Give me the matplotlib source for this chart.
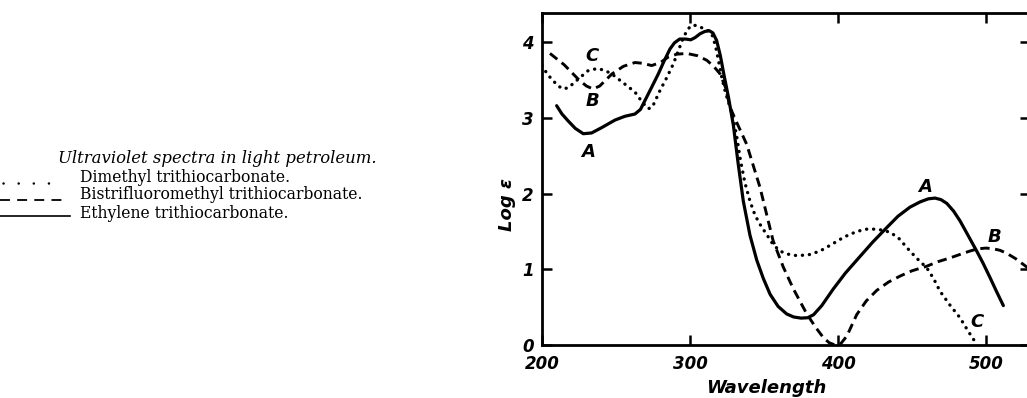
import matplotlib
matplotlib.use("Agg")
import matplotlib.pyplot as plt
from matplotlib.lines import Line2D

# ---- data ----
# A: Ethylene trithiocarbonate (solid)
wl_A = [209.9, 213.5, 217.6, 222.5, 227.9, 233.5, 240.3, 249.3, 256.0, 262.8, 266.5, 269.6,
        274.0, 278.6, 282.5, 286.5, 289.5, 293.0, 297.0, 300.5, 303.5, 306.8, 310.0,
        313.0, 315.5, 318.0, 320.5, 323.0, 326.0, 329.3, 332.5, 336.0, 340.5, 345.1,
        349.5, 354.1, 359.5, 365.3, 370.0, 375.0, 379.5, 383.5, 389.0, 396.8, 405.0,
        414.9, 423.5, 432.9, 440.5, 448.6, 455.5, 461.0, 465.5, 469.5, 473.5, 478.0,
        482.4, 487.5, 493.7, 498.0, 502.7, 507.0, 511.7]
le_A = [3.16, 3.05, 2.96, 2.86, 2.79, 2.80, 2.87, 2.97, 3.02, 3.05, 3.11, 3.23,
        3.40, 3.58, 3.75, 3.91, 3.99, 4.04, 4.04, 4.03, 4.06, 4.11, 4.14,
        4.15, 4.12, 4.02, 3.82, 3.56, 3.27, 2.90, 2.40, 1.90, 1.45, 1.12,
        0.88, 0.67, 0.51, 0.41, 0.37, 0.355, 0.36, 0.40, 0.52, 0.74, 0.95,
        1.17, 1.36, 1.55, 1.70, 1.82, 1.89, 1.93, 1.94, 1.92, 1.87, 1.77,
        1.64, 1.46, 1.24, 1.08, 0.89, 0.71, 0.52]

# B: Bistrifluoromethyl trithiocarbonate (dashed)
wl_B = [205.4, 215.0, 225.0, 230.0, 234.5, 239.0, 247.3, 255.0, 262.8, 268.0, 274.1,
        280.0, 285.1, 291.0, 297.8, 305.0, 311.3, 316.0, 320.3, 324.0, 327.0, 332.0,
        338.3, 347.3, 356.1, 363.0, 369.6, 374.5, 378.9, 385.0, 390.0, 394.0, 398.0,
        402.0, 406.0, 412.6, 419.0, 426.1, 434.0, 441.9, 450.0, 459.9, 467.5, 475.7,
        483.0, 489.0, 494.5, 500.0, 505.0, 509.5, 514.0, 520.0, 527.5, 532.0]
le_B = [3.85, 3.70, 3.50, 3.42, 3.38, 3.42, 3.58, 3.68, 3.73, 3.72, 3.69,
        3.73, 3.80, 3.84, 3.85, 3.82, 3.76, 3.68, 3.58, 3.40, 3.14, 2.92,
        2.65, 2.08, 1.38, 1.03, 0.75, 0.57, 0.41, 0.23, 0.10, 0.03, 0.00,
        0.02, 0.12, 0.40, 0.58, 0.72, 0.83, 0.91, 0.98, 1.04, 1.10, 1.15,
        1.20, 1.24, 1.27, 1.28, 1.27, 1.25, 1.21, 1.14, 1.03, 0.96]

# C: Dimethyl trithiocarbonate (dotted)
wl_C = [200.0, 203.5, 207.0, 211.0, 214.4, 218.0, 225.0, 231.0, 237.0, 242.0, 247.1,
        255.0, 262.8, 268.0, 271.8, 274.5, 279.7, 284.0, 288.7, 292.0, 295.5, 298.5,
        301.1, 304.0, 306.8, 310.0, 313.5, 315.5, 317.5, 319.5, 321.4, 324.0, 327.0,
        329.5, 331.6, 334.0, 337.0, 340.5, 344.0, 348.0, 351.8, 356.0, 360.8, 366.0,
        372.1, 380.0, 387.8, 395.0, 403.6, 409.0, 414.9, 419.5, 423.9, 429.0, 435.1,
        441.0, 448.6, 454.0, 459.9, 464.5, 468.9, 475.5, 482.4, 488.0, 493.7]
le_C = [3.69, 3.58, 3.50, 3.42, 3.38, 3.40, 3.52, 3.62, 3.65, 3.63, 3.58,
        3.46, 3.34, 3.20, 3.12, 3.14, 3.36, 3.52, 3.71, 3.88, 4.06, 4.17,
        4.22, 4.22, 4.20, 4.17, 4.14, 4.07, 3.92, 3.73, 3.54, 3.33, 3.14,
        2.96, 2.75, 2.45, 2.15, 1.90, 1.71, 1.57, 1.46, 1.33, 1.24, 1.20,
        1.18, 1.19, 1.24, 1.32, 1.42, 1.47, 1.51, 1.53, 1.53, 1.52, 1.49,
        1.41, 1.24, 1.13, 1.02, 0.88, 0.71, 0.53, 0.36, 0.18, 0.01]

x_ticks = [200, 300, 400, 500]
y_ticks = [0, 1, 2, 3, 4]

curve_labels = ["A", "B", "C", "A", "B", "C"]
label_x = [231, 234, 234, 459, 506, 494]
label_y = [2.55, 3.22, 3.82, 2.08, 1.42, 0.30]

title_text = "Ultraviolet spectra in light petroleum."
legend_texts = ["Dimethyl trithiocarbonate.",
                "Bistrifluoromethyl trithiocarbonate.",
                "Ethylene trithiocarbonate."]

# ---- figure ----
W, H = 1027, 398
fig = plt.figure(figsize=(W / 100, H / 100), dpi=100)

def fx(x):
    return x / W

def fy(y):
    return 1 - y / H

ax_left, ax_right, ax_top, ax_bot = 542, 1030, 13.3, 345
ax = fig.add_axes([fx(ax_left), fy(ax_bot), (ax_right - ax_left) / W, (ax_bot - ax_top) / H])
ax.set_xlim(200, 529.7)
ax.set_ylim(0, 4.38)

dot_style = (0, (0.05, 2.05))
dash_style = (0, (3.2, 1.9))

ax.plot(wl_A, le_A, color="black", lw=2.3, solid_capstyle="round", solid_joinstyle="round")
ax.plot(wl_B, le_B, color="black", lw=2.1, linestyle=dash_style, dash_capstyle="butt")
ax.plot(wl_C, le_C, color="black", lw=2.4, linestyle=dot_style, dash_capstyle="round")

lab_font = dict(fontsize=13, fontweight="bold", fontstyle="italic", family="DejaVu Sans")
for t, x, y in zip(curve_labels, label_x, label_y):
    ax.text(x, y, t, ha="center", va="center", **lab_font)

for s in ax.spines.values():
    s.set_linewidth(2.0)

ax.set_xticks(x_ticks)
ax.set_yticks(y_ticks)
ax.set_xticklabels([str(v) for v in x_ticks])
ax.set_yticklabels([str(v) for v in y_ticks])
ax.tick_params(direction="in", length=7, width=1.8, top=True, right=True,
               labelsize=12, pad=6)
ax.tick_params(axis="x", pad=7)
for lbl in ax.get_xticklabels() + ax.get_yticklabels():
    lbl.set_fontweight("bold")
    lbl.set_fontstyle("italic")

fig.text(fx(766), fy(388), "Wavelength", ha="center", va="center",
         fontsize=13, fontweight="bold", fontstyle="italic")
fig.text(fx(507), fy(205), "Log ε", ha="center", va="center", rotation=90,
         fontsize=13, fontweight="bold", fontstyle="italic")

# ---- left-hand key ----
serif = "DejaVu Serif"
ttl = fig.text(fx(58), fy(158), title_text, ha="left", va="center",
               fontsize=11, fontstyle="italic", family=serif)
items = []
item_y = [177, 195, 213]
for t, y in zip(legend_texts, item_y):
    items.append(fig.text(fx(80), fy(y), t, ha="left", va="center", fontsize=10, family=serif))

fig.canvas.draw()
r = fig.canvas.get_renderer()
w = ttl.get_window_extent(r).width
ttl.set_fontsize(11 * 318 / w)
w = items[1].get_window_extent(r).width
fs = 10 * 284 / w
for it in items:
    it.set_fontsize(fs)

fig.add_artist(Line2D([fx(3), fx(49)], [fy(183), fy(183)], color="black", lw=1.8,
                      linestyle=(0, (0.05, 6.0)), dash_capstyle="round"))
fig.add_artist(Line2D([fx(0), fx(68)], [fy(200), fy(200)], color="black", lw=1.3,
                      linestyle=(0, (5.5, 4.0))))
fig.add_artist(Line2D([fx(0), fx(70)], [fy(216), fy(216)], color="black", lw=1.2))

fig.savefig("out.png", dpi=100)
